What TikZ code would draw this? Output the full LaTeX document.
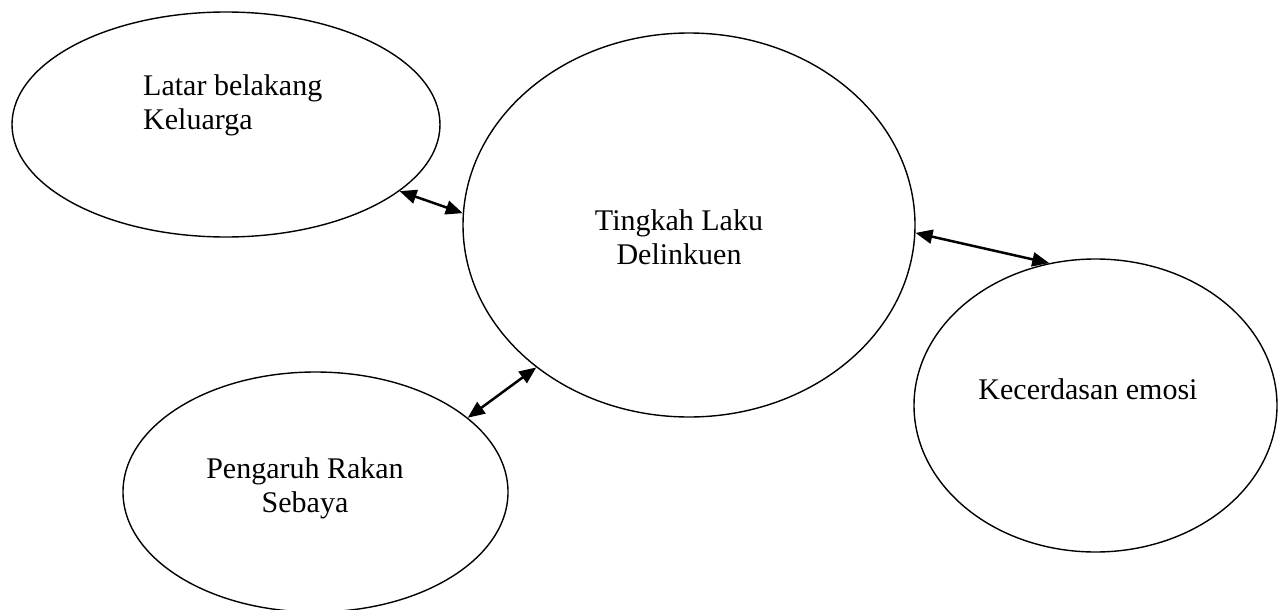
\documentclass[tikz,border=0pt]{standalone}
\usepackage{fontspec}
\setmainfont{Liberation Serif}
\usetikzlibrary{shapes.geometric,arrows.meta}
\begin{document}
\begin{tikzpicture}[x=1pt,y=-1pt,
  oval/.style={ellipse,draw,line width=1.4pt,inner sep=0pt},
  lbl/.style={inner sep=0pt,font=\fontsize{30}{34}\selectfont},
  link/.style={line width=2.5pt,{Triangle[length=17pt,width=14pt]}-{Triangle[length=17pt,width=14pt]}}]
\useasboundingbox (0,0) rectangle (1279,610);
\node[oval,minimum width=428pt,minimum height=225pt] (fam) at (226,124.5) {};
\node[oval,minimum width=452pt,minimum height=384pt] (tl) at (689,225) {};
\node[oval,minimum width=363pt,minimum height=293pt] (emo) at (1095.5,405.5) {};
\node[oval,minimum width=385pt,minimum height=240pt] (peer) at (315.5,492) {};
\node[lbl,anchor=base west] (famtxt) at (143,95) {\begin{tabular}[t]{@{}l@{}}Latar belakang\\Keluarga\end{tabular}};
\node[lbl,anchor=base] (tltxt) at (679,230) {\begin{tabular}[t]{@{}c@{}}Tingkah Laku\\Delinkuen\end{tabular}};
\node[lbl,anchor=base] (emotxt) at (1088,399) {Kecerdasan emosi};
\node[lbl,anchor=base] (peertxt) at (305,478) {\begin{tabular}[t]{@{}c@{}}Pengaruh Rakan\\Sebaya\end{tabular}};
\draw[link] (fam.-21.3) -- (tl.177);
\draw[link] (tl.-2.5) -- (emo.108);
\draw[link] (peer.26.8) -- (tl.223.1);
\end{tikzpicture}
\end{document}
